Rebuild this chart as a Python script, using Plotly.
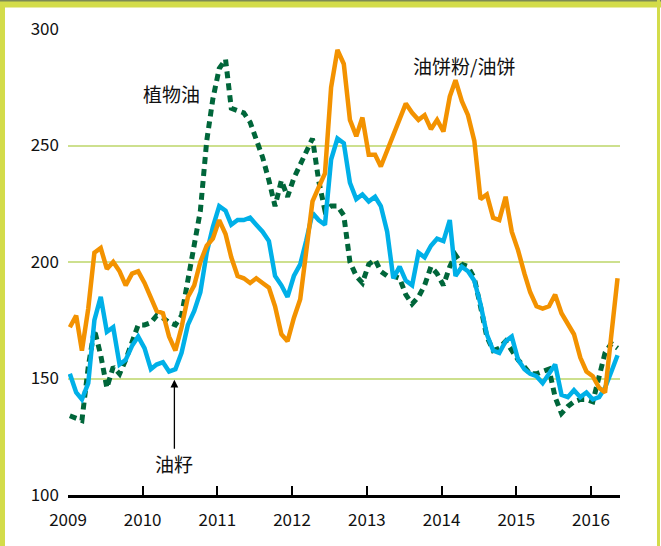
import pandas as pd
import plotly.graph_objects as go

# monthly series, Jan 2009 - May 2016 (index values)
months = pd.date_range("2009-01-01", periods=89, freq="MS") + pd.Timedelta(days=9)

meal_cake = [172, 177, 162, 180, 204, 206, 197, 200, 196, 190, 195, 196,
             191, 185, 179, 178, 168, 162, 172, 185, 190, 200, 207, 210,
             218, 212, 202, 194, 193, 191, 193, 191, 189, 181, 169, 166,
             176, 184, 204, 226, 232, 238, 275, 291, 285, 261, 254, 262,
             246, 246, 241, 248, 255, 262, 268, 264, 261, 263, 257, 261,
             256, 271, 278, 269, 263, 252, 227, 229, 219, 218, 228, 213,
             205, 195, 187, 181, 180, 181, 186, 178, 173, 169, 159, 153,
             151, 146, 144, 169, 193]

oilseeds = [152, 144, 141, 148, 175, 185, 170, 172, 156, 158, 164, 168,
            163, 154, 156, 157, 153, 154, 161, 173, 179, 187, 204, 215,
            224, 222, 216, 218, 218, 219, 216, 213, 209, 194, 190, 185,
            194, 199, 209, 221, 218, 216, 244, 253, 251, 234, 227, 229,
            226, 228, 224, 213, 193, 198, 192, 190, 204, 202, 207, 210,
            209, 218, 194, 198, 196, 192, 182, 169, 162, 161, 166, 168,
            158, 154, 152, 151, 148, 152, 156, 143, 142, 145, 142, 144,
            141, 142, 146, 153, 160]

veg_oil = [134, 133, 132, 155, 171, 160, 146, 155, 152, 158, 166, 173,
           173, 174, 177, 176, 174, 173, 177, 192, 207, 222, 252, 270,
           283, 287, 266, 265, 264, 260, 252, 245, 235, 224, 235, 228,
           236, 242, 247, 253, 235, 222, 224, 224, 220, 200, 194, 191,
           199, 201, 196, 194, 194, 193, 186, 182, 185, 190, 198, 195,
           190, 198, 203, 199, 198, 193, 181, 168, 162, 163, 166, 162,
           158, 155, 152, 152, 153, 154, 142, 135, 138, 140, 141, 141,
           140, 150, 161, 165, 163]

y_ticks = [100, 150, 200, 250, 300]

FONT = "Noto Sans CJK SC"
LIME = "#d3dc4a"

fig = go.Figure()

fig.add_trace(go.Scatter(x=months, y=veg_oil, mode="lines", name="植物油",
                         line=dict(color="#00663a", width=5, dash="7px,5px")))
fig.add_trace(go.Scatter(x=months, y=oilseeds, mode="lines", name="油籽",
                         line=dict(color="#00b0e8", width=4.5)))
fig.add_trace(go.Scatter(x=months, y=meal_cake, mode="lines", name="油饼粉/油饼",
                         line=dict(color="#f39200", width=4.5)))

# frame (pixel -> paper coords, plot area is x 68..620, y 29..495)
def px(v):
    return (v - 68) / 552

def py(v):
    return (495 - v) / 466

frame = [
    (0, 0, 5, 546, LIME),
    (0, 0, 661, 7.5, LIME),
    (0, 0, 661, 1.5, "#7d8a55"),
    (657, 0, 660, 546, LIME),
]
shapes = [dict(type="rect", xref="paper", yref="paper",
               x0=px(a), x1=px(c), y0=py(b), y1=py(d),
               fillcolor=col, line=dict(width=0), layer="above")
          for a, b, c, d, col in frame]

fig.update_layout(
    width=661, height=546,
    margin=dict(l=68, r=41, t=29, b=51),
    paper_bgcolor="white", plot_bgcolor="white",
    showlegend=False,
    font=dict(family=FONT, size=17, color="#111111"),
    shapes=shapes,
    xaxis=dict(
        range=["2009-01-01", "2016-05-22"],
        tick0="2009-01-01", dtick="M12", tickformat="%Y",
        showgrid=False, zeroline=False,
        showline=True, linecolor="black", linewidth=2.5,
        ticks="inside", ticklen=9, tickwidth=2, tickcolor="black",
        ticklabelstandoff=8,
    ),
    yaxis=dict(
        range=[100, 300], tickvals=y_ticks,
        showgrid=True, gridcolor="#cde08e", gridwidth=1.5,
        zeroline=False, showline=False, ticks="",
        ticklabelstandoff=8,
    ),
    annotations=[
        dict(x="2010-05-20", y=272.5, text="植物油", showarrow=False,
             font=dict(family=FONT, size=19)),
        dict(x="2014-04-20", y=284.5, text="油饼粉/油饼", showarrow=False,
             font=dict(family=FONT, size=19)),
        dict(x="2010-06-05", y=149.5, text="油籽", showarrow=True,
             ax=0, ay=84, arrowhead=2, arrowsize=1.2, arrowwidth=1.3,
             arrowcolor="black", font=dict(family=FONT, size=19)),
    ],
)

# the page's default body margin would push the figure 8px off
fig.write_html("out.html", config={"displayModeBar": False},
               post_script="document.body.style.margin='0';")
